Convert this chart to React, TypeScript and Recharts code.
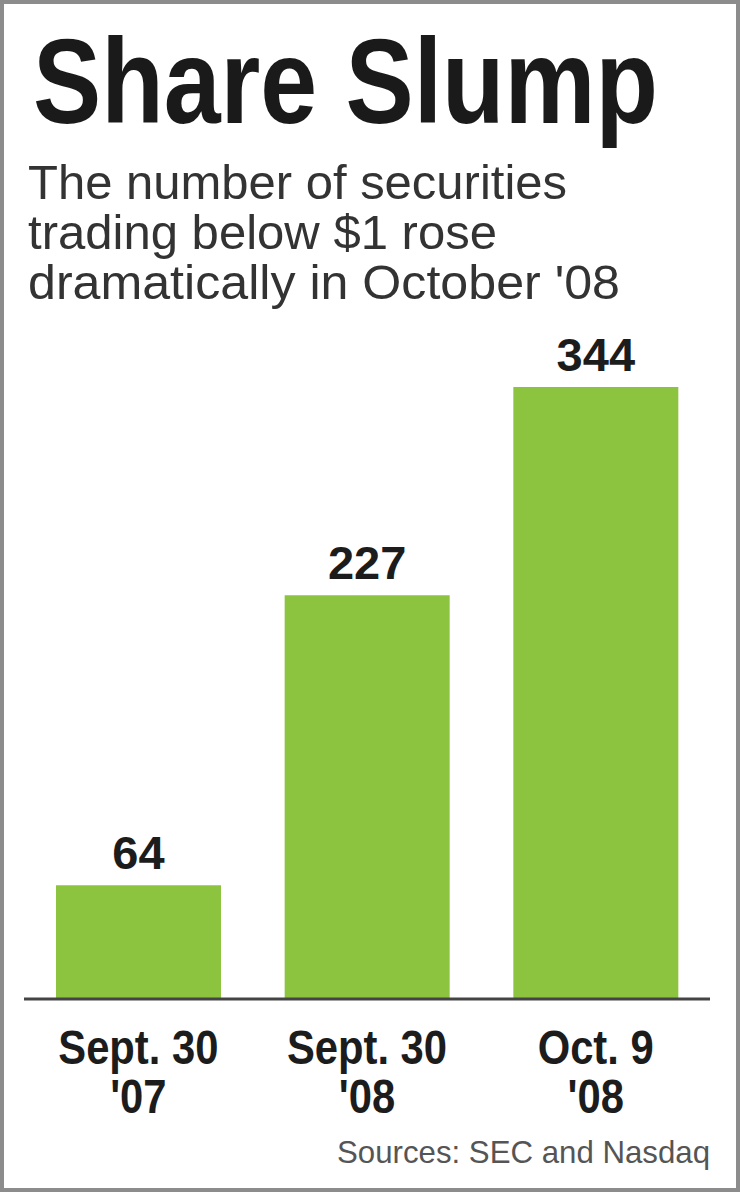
import React from "react";
import { BarChart, Bar, XAxis, YAxis, LabelList } from "recharts";

const categories = ["Sept. 30|'07", "Sept. 30|'08", "Oct. 9|'08"];
const securitiesBelow1 = [64, 227, 344];
const subtitleLines = [
  "The number of securities",
  "trading below $1 rose",
  "dramatically in October '08",
];

const data = categories.map((c, i) => ({ date: c, count: securitiesBelow1[i] }));

const FONT = "'Liberation Sans', Arial, sans-serif";

const DateTick = (props: any) => {
  const { x, y, payload } = props;
  const lines = String(payload.value).split("|");
  return (
    <g transform={`translate(${x},${y}) scale(0.87,1)`}>
      {lines.map((l, i) => (
        <text
          key={i}
          x={0}
          y={65 + i * 49}
          textAnchor="middle"
          fontFamily={FONT}
          fontWeight="bold"
          fontSize={48}
          fill="#1c1c1c"
        >
          {l}
        </text>
      ))}
    </g>
  );
};

const ValueLabel = (props: any) => {
  const { x, y, width, value } = props;
  return (
    <text
      x={x + width / 2}
      y={y - 16}
      textAnchor="middle"
      fontFamily={FONT}
      fontWeight="bold"
      fontSize={47}
      fill="#1c1c1c"
    >
      {value}
    </text>
  );
};

export default function App() {
  return (
    <div
      style={{
        position: "absolute",
        left: 0,
        top: 0,
        width: 740,
        height: 1192,
        background: "#fff",
      }}
    >
      <BarChart
        width={740}
        height={1192}
        data={data}
        margin={{ top: 387, right: 30, bottom: 0, left: 24 }}
      >
        <XAxis
          dataKey="date"
          height={193}
          tickLine={false}
          tickSize={0}
          tickMargin={0}
          axisLine={{ stroke: "#444", strokeWidth: 3 }}
          tick={<DateTick />}
          interval={0}
        />
        <YAxis hide domain={[0, 344]} />
        <Bar dataKey="count" fill="#8cc43f" barSize={165} isAnimationActive={false}>
          <LabelList dataKey="count" content={<ValueLabel />} />
        </Bar>
      </BarChart>
      <svg
        width={740}
        height={1192}
        style={{ position: "absolute", left: 0, top: 0, pointerEvents: "none" }}
      >
        <rect x={2} y={2} width={736} height={1188} fill="none" stroke="#8c8c8c" strokeWidth={4} />
        <g transform="translate(33,123) scale(0.845,1)">
          <text x={0} y={0} fontFamily={FONT} fontWeight="bold" fontSize={121} fill="#1a1a1a">
            Share Slump
          </text>
        </g>
        {subtitleLines.map((l, i) => (
          <text
            key={i}
            x={28}
            y={199 + i * 50}
            fontFamily={FONT}
            fontSize={49}
            fill="#333"
            textLength={[539, 469, 592][i]}
            lengthAdjust="spacingAndGlyphs"
          >
            {l}
          </text>
        ))}
        <text
          x={337}
          y={1163}
          fontFamily={FONT}
          fontSize={32}
          fill="#555"
          textLength={373}
          lengthAdjust="spacingAndGlyphs"
        >
          Sources: SEC and Nasdaq
        </text>
      </svg>
    </div>
  );
}
